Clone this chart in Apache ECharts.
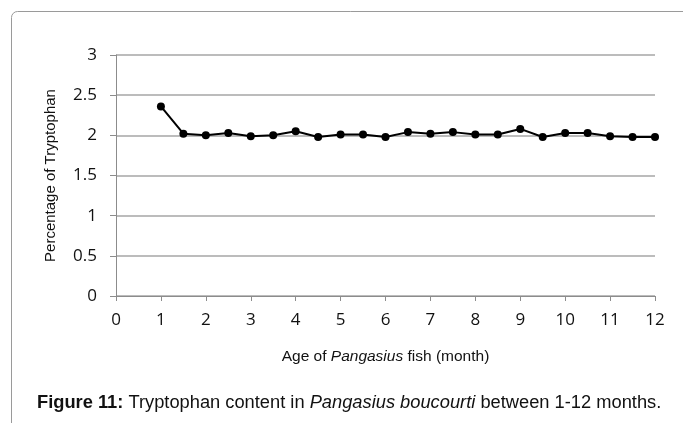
<!DOCTYPE html>
<html lang="en">
<head>
<meta charset="UTF-8">
<title>Tryptophan content</title>
<script src="https://cdn.jsdelivr.net/npm/echarts@6/dist/echarts.min.js"></script>
<style>
  html, body { margin: 0; padding: 0; background: #fff; }
  #chart { width: 683px; height: 423px; }
</style>
</head>
<body>
<div id="chart"></div>
<script>
// age in months and tryptophan percentage
const ages = [1, 1.5, 2, 2.5, 3, 3.5, 4, 4.5, 5, 5.5, 6, 6.5, 7, 7.5, 8, 8.5, 9, 9.5, 10, 10.5, 11, 11.5, 12];
const tryptophan = [2.36, 2.02, 2.0, 2.03, 1.99, 2.0, 2.05, 1.98, 2.01, 2.01, 1.98, 2.04, 2.02, 2.04, 2.01, 2.01, 2.08, 1.98, 2.03, 2.03, 1.99, 1.98, 1.98];
const yTicks = [0, 0.5, 1, 1.5, 2, 2.5, 3];

const chart = echarts.init(document.getElementById('chart'));
chart.setOption({
  animation: false,
  graphic: [{
    type: 'rect',
    shape: { x: 11.5, y: 11.5, width: 690, height: 430, r: [6, 0, 0, 0] },
    style: { fill: 'none', stroke: '#9a9a9a', lineWidth: 1 },
    silent: true
  }],
  title: {
    text: '{b|Figure 11:} Tryptophan content in {i|Pangasius boucourti} between 1-12 months.',
    left: 32, top: 389,
    textStyle: {
      fontFamily: 'Liberation Sans', fontSize: 18.3, fontWeight: 'normal', color: '#111',
      rich: {
        b: { fontFamily: 'Liberation Sans', fontSize: 18.3, fontWeight: 'bold', color: '#111' },
        i: { fontFamily: 'Liberation Sans', fontSize: 18.3, fontStyle: 'italic', color: '#111' }
      }
    }
  },
  grid: { left: 116, right: 28, top: 55, bottom: 127 },
  xAxis: {
    type: 'value', min: 0, max: 12, interval: 1,
    name: 'Age of {i|Pangasius} fish (month)',
    nameLocation: 'middle', nameGap: 53,
    nameTextStyle: {
      fontFamily: 'Liberation Sans', fontSize: 15.5, color: '#111',
      rich: { i: { fontFamily: 'Liberation Sans', fontSize: 15.5, fontStyle: 'italic', color: '#111' } }
    },
    axisLine: { lineStyle: { color: '#8c8c8c', width: 1 } },
    axisTick: { length: 5, lineStyle: { color: '#8c8c8c' } },
    axisLabel: { fontFamily: 'Open Sans', fontSize: 17, color: '#111', margin: 16 },
    splitLine: { show: false }
  },
  yAxis: {
    type: 'value', min: 0, max: 3, interval: 0.5,
    name: 'Percentage of Tryptophan',
    nameLocation: 'middle', nameGap: 58,
    nameTextStyle: { fontFamily: 'Liberation Sans', fontSize: 15, color: '#111' },
    axisLine: { show: true, lineStyle: { color: '#8c8c8c', width: 1 } },
    axisTick: { show: true, length: 6, lineStyle: { color: '#8c8c8c' } },
    axisLabel: {
      fontFamily: 'Open Sans', fontSize: 17, color: '#111', margin: 19,
      formatter: v => yTicks.includes(v) ? String(v) : ''
    },
    splitLine: { show: true, lineStyle: { color: '#a6a6a6', width: 1.5 } }
  },
  series: [{
    type: 'line',
    data: ages.map((a, i) => [a, tryptophan[i]]),
    symbol: 'circle', symbolSize: 8,
    lineStyle: { color: '#000', width: 2 },
    itemStyle: { color: '#000' }
  }]
});
</script>
</body>
</html>
